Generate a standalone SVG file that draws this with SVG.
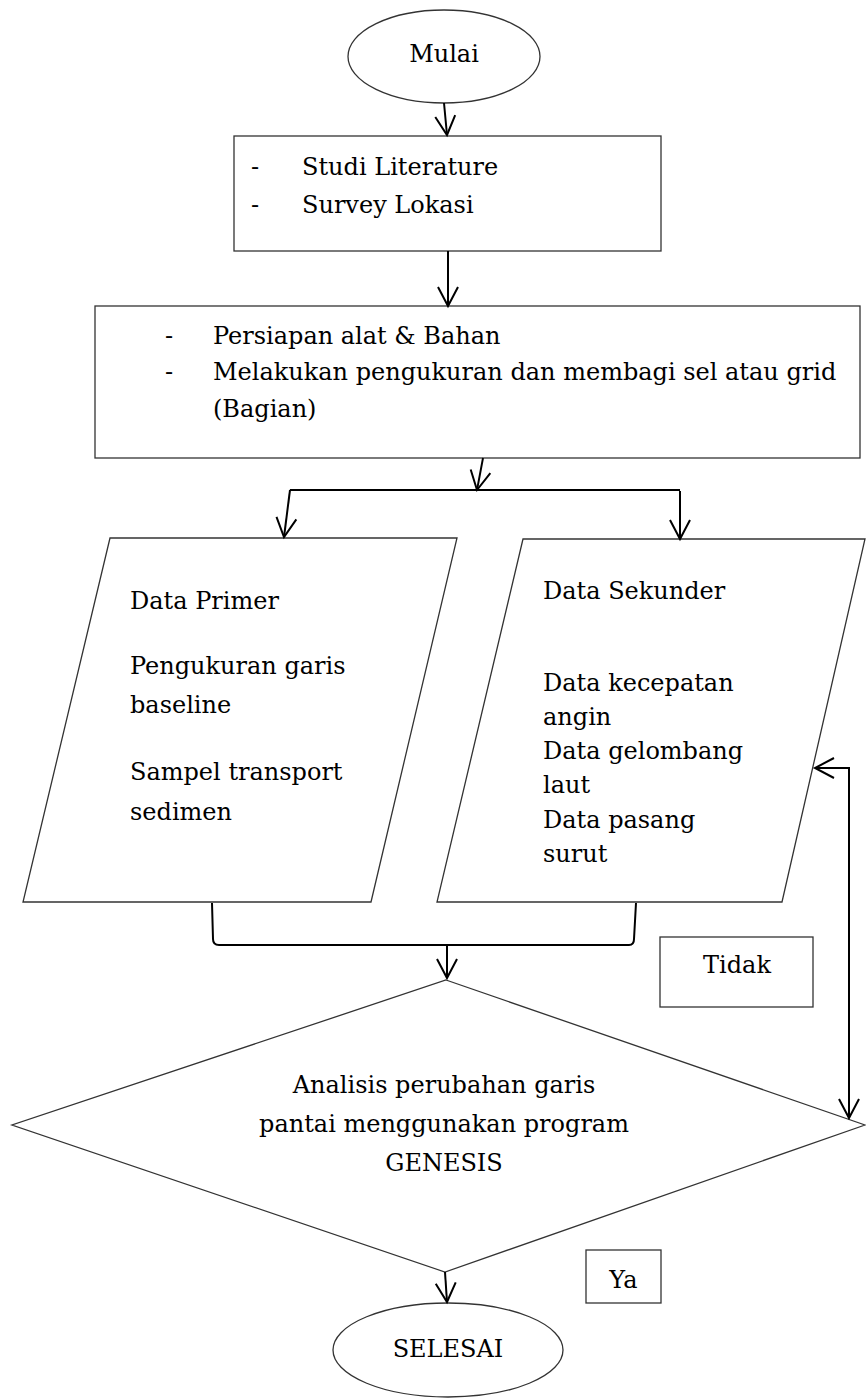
<svg xmlns="http://www.w3.org/2000/svg" width="866" height="1399" viewBox="0 0 866 1399">
<style>
.shape{fill:#fff;stroke:#333;stroke-width:1.3}
.conn{fill:none;stroke:#000;stroke-width:2}
.t{font-family:"DejaVu Serif","Liberation Serif",serif;font-size:24px;fill:#000}
.c{text-anchor:middle}
</style>
<defs>
<marker id="arr" markerUnits="userSpaceOnUse" markerWidth="26" markerHeight="26" viewBox="-22 -13 26 26" refX="0" refY="0" orient="auto-start-reverse" overflow="visible">
<path d="M-19,-10 L0,0 L-19,10" fill="none" stroke="#000" stroke-width="2"/>
</marker>
</defs>
<rect width="866" height="1399" fill="#fff"/>
<g id="mulai">
<ellipse class="shape" cx="444" cy="56.5" rx="96" ry="46.5"/>
<text class="t c" x="444" y="62">Mulai</text>
</g>
<g id="studi">
<rect class="shape" x="234" y="136" width="427" height="115"/>
<text class="t" x="251" y="175">-</text>
<text class="t" x="302" y="175">Studi Literature</text>
<text class="t" x="251" y="213">-</text>
<text class="t" x="302" y="213">Survey Lokasi</text>
</g>
<g id="persiapan">
<rect class="shape" x="95" y="306" width="765" height="152"/>
<text class="t" x="165" y="343.5">-</text>
<text class="t" x="213" y="343.5">Persiapan alat &amp; Bahan</text>
<text class="t" x="165" y="380">-</text>
<text class="t" x="213" y="380">Melakukan pengukuran dan membagi sel atau grid</text>
<text class="t" x="213" y="416.5">(Bagian)</text>
</g>
<g id="primer">
<polygon class="shape" points="110,538 457,538 371,902 23,902"/>
<text class="t" x="130" y="609">Data Primer</text>
<text class="t" x="130" y="674">Pengukuran garis</text>
<text class="t" x="130" y="713">baseline</text>
<text class="t" x="130" y="780">Sampel transport</text>
<text class="t" x="130" y="820">sedimen</text>
</g>
<g id="sekunder">
<polygon class="shape" points="523,539 865,539 782,902 437,902"/>
<text class="t" x="543" y="599">Data Sekunder</text>
<text class="t" x="543" y="691">Data kecepatan</text>
<text class="t" x="543" y="725">angin</text>
<text class="t" x="543" y="759">Data gelombang</text>
<text class="t" x="543" y="793">laut</text>
<text class="t" x="543" y="828">Data pasang</text>
<text class="t" x="543" y="862">surut</text>
</g>
<g id="tidak">
<rect class="shape" x="660" y="937" width="153" height="70"/>
<text class="t c" x="737" y="973">Tidak</text>
</g>
<g id="analisis">
<polygon class="shape" points="446,980 865,1125 445,1272 12,1125"/>
<text class="t c" x="444" y="1093">Analisis perubahan garis</text>
<text class="t c" x="444" y="1132">pantai menggunakan program</text>
<text class="t c" x="444" y="1171">GENESIS</text>
</g>
<g id="ya">
<rect class="shape" x="586" y="1250" width="75" height="53"/>
<text class="t c" x="623.5" y="1288">Ya</text>
</g>
<g id="selesai">
<ellipse class="shape" cx="448" cy="1350" rx="115" ry="47"/>
<text class="t c" x="448" y="1357">SELESAI</text>
</g>
<g id="connectors">
<path class="conn" d="M444,103 L447,135" marker-end="url(#arr)"/>
<path class="conn" d="M448,251 L448,306" marker-end="url(#arr)"/>
<path class="conn" d="M483,458 L477,490" marker-end="url(#arr)"/>
<path class="conn" d="M290,490 L680,490"/>
<path class="conn" d="M290,490 L284,537" marker-end="url(#arr)"/>
<path class="conn" d="M680,491 L680,539" marker-end="url(#arr)"/>
<path class="conn" d="M212,903 L213,939 Q213,945 219,945 L629,945 Q634,945 634,939 L636,903"/>
<path class="conn" d="M447,945 L447,978" marker-end="url(#arr)"/>
<path class="conn" d="M815,768 L849,768 L849,1118" marker-start="url(#arr)" marker-end="url(#arr)"/>
<path class="conn" d="M445,1272 L447,1302" marker-end="url(#arr)"/>
</g>
</svg>
